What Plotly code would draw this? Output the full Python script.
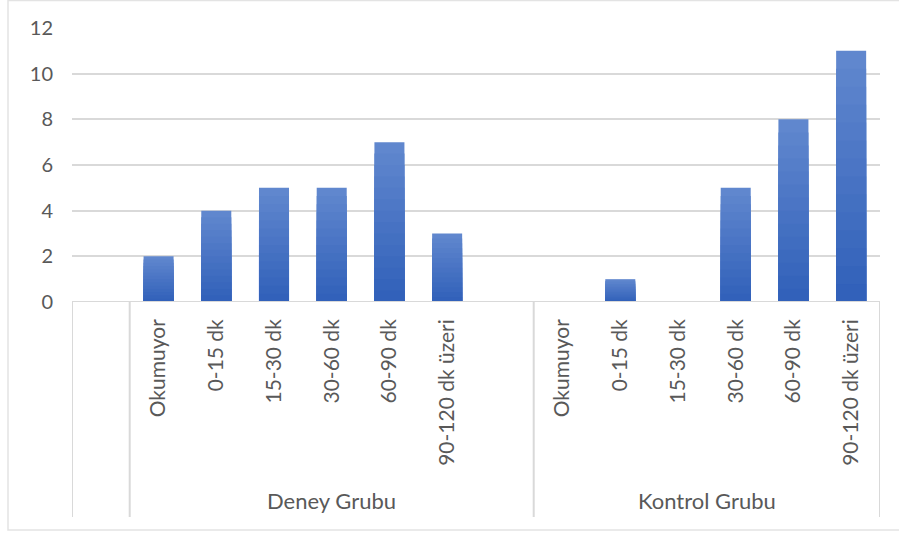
import plotly.graph_objects as go

groups = ["", "Deney Grubu", "Kontrol Grubu"]
categories = ["Okumuyor", "0-15 dk", "15-30 dk", "30-60 dk", "60-90 dk", "90-120 dk üzeri"]
deney = [2, 4, 5, 5, 7, 3]
kontrol = [0, 1, 0, 5, 8, 11]
y_ticks = [0, 2, 4, 6, 8, 10, 12]

# slot layout: 1 blank slot, Deney (6 cats + 1 blank), Kontrol (6 cats)
slot_labels = [""] + categories + [""] + categories
slot_values = [None] + deney + [None] + kontrol
xs = list(range(len(slot_labels)))
bar_x = [x for x, v in zip(xs, slot_values) if v is not None]
bar_v = [v for v in slot_values if v is not None]

W, H = 899, 533
L, R, T, B = 72, 19, 28, 231
pw, ph = W - L - R, H - T - B

def px(xp):
    return (xp - L) / pw

def py(yp):
    return (H - B - yp) / ph

fig = go.Figure()

# gradient bars by layering (lighter on top, darker at bottom)
N = 14
top = (96, 135, 206)
bot = (46, 94, 184)
for k in range(N, 0, -1):
    f = k / N
    c = tuple(round(bot[i] + (top[i] - bot[i]) * f) for i in range(3))
    fig.add_trace(go.Bar(
        x=bar_x, y=[v * f for v in bar_v], width=0.52,
        marker=dict(color="rgb(%d,%d,%d)" % c, line=dict(width=0)),
        hoverinfo="skip", showlegend=False,
    ))

grid = "#D9D9D9"
text_col = "#595959"
font = "Lato"

fig.update_layout(
    width=W, height=H,
    margin=dict(l=L, r=R, t=T, b=B),
    barmode="overlay",
    paper_bgcolor="white", plot_bgcolor="white",
    showlegend=False,
    xaxis=dict(
        range=[-0.5, len(slot_labels) - 0.5],
        tickmode="array", tickvals=xs, ticktext=slot_labels,
        tickangle=-90, showgrid=False, zeroline=False,
        showline=False, ticks="", ticklen=0,
        tickfont=dict(family=font, size=21, color=text_col),
        ticklabelstandoff=12,
    ),
    yaxis=dict(
        range=[0, 12], tickmode="array", tickvals=y_ticks,
        showgrid=True, gridcolor=grid, gridwidth=1.5,
        zeroline=False, showline=False, ticks="",
        tickfont=dict(family=font, size=20, color=text_col),
        ticklabelstandoff=18,
    ),
)

shapes = []
# axis line at 0
shapes.append(dict(type="line", xref="paper", yref="y", x0=0, x1=1, y0=0, y1=0,
                   line=dict(color=grid, width=2)))
# category table vertical separators
bottom = py(517)
for b in [-0.5, 0.5, 7.5, len(slot_labels) - 0.5]:
    shapes.append(dict(type="line", xref="x", yref="paper", x0=b, x1=b, y0=0, y1=bottom,
                       line=dict(color=grid, width=2)))
# outer chart border
shapes.append(dict(type="rect", xref="paper", yref="paper",
                   x0=px(8), x1=px(905), y0=py(530), y1=py(0.5),
                   line=dict(color="#E3E3E3", width=1.5), fillcolor="rgba(0,0,0,0)", layer="below"))
fig.update_layout(shapes=shapes)

# group labels
for name, center in [(groups[1], 4), (groups[2], 10.5)]:
    fig.add_annotation(x=center, xref="x", y=py(500), yref="paper", text=name,
                       showarrow=False, font=dict(family=font, size=22, color=text_col),
                       xanchor="center", yanchor="middle")

fig.write_html("out.html")
